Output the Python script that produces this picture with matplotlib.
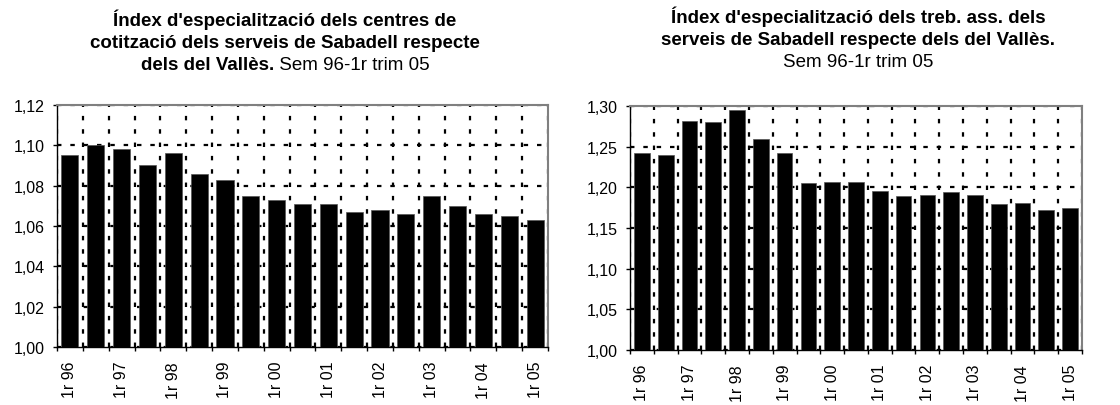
import matplotlib
matplotlib.use('Agg')
import matplotlib.pyplot as plt
from matplotlib.ticker import FuncFormatter
import numpy as np

plt.rcParams['font.family'] = ['Liberation Sans', 'DejaVu Sans']

# Dades: 1r sem 96 - 1r trim 05 (semestres)
periodes = ['1r 96', '2n 96', '1r 97', '2n 97', '1r 98', '2n 98', '1r 99', '2n 99',
            '1r 00', '2n 00', '1r 01', '2n 01', '1r 02', '2n 02', '1r 03', '2n 03',
            '1r 04', '2n 04', '1r 05']

centres = [1.095, 1.100, 1.098, 1.090, 1.096, 1.086, 1.083, 1.075, 1.073, 1.071,
           1.071, 1.067, 1.068, 1.066, 1.075, 1.070, 1.066, 1.065, 1.063]

treballadors = [1.242, 1.240, 1.281, 1.280, 1.295, 1.260, 1.242, 1.205, 1.206, 1.206,
                1.196, 1.189, 1.191, 1.194, 1.190, 1.180, 1.181, 1.172, 1.175]

ticks_esq = [1.00, 1.02, 1.04, 1.06, 1.08, 1.10, 1.12]
ticks_dre = [1.00, 1.05, 1.10, 1.15, 1.20, 1.25, 1.30]

titol_esq = ["Índex d'especialització dels centres de",
             "cotització dels serveis de Sabadell respecte"]
titol_esq_bold3 = "dels del Vallès."
titol_esq_reg3 = " Sem 96-1r trim 05"

titol_dre = ["Índex d'especialització dels treb. ass. dels",
             "serveis de Sabadell respecte dels del Vallès."]
titol_dre_reg3 = "Sem 96-1r trim 05"

W, H = 1120, 406
fig = plt.figure(figsize=(W / 100, H / 100), dpi=100)


def px(x, y):
    return x / W, 1 - y / H


def bar_chart(ax, values, yticks):
    n = len(values)
    x = np.arange(n)
    ax.bar(x, np.array(values) - yticks[0], bottom=yticks[0], width=0.66,
           color='black', edgecolor='#555555', linewidth=0.5, zorder=3)
    ax.set_xlim(-0.5, n - 0.5)
    ax.set_ylim(yticks[0], yticks[-1])
    ax.set_yticks(yticks)
    ax.yaxis.set_major_formatter(FuncFormatter(lambda v, p: ('%.2f' % v).replace('.', ',')))

    # etiquetes cada dos periodes, centrades a la barra
    ax.set_xticks(x[::2])
    ax.set_xticklabels(periodes[::2], rotation=90)
    ax.tick_params(axis='x', which='major', length=0, pad=10)
    # marques i graella a les fronteres entre categories
    ax.set_xticks(np.arange(-0.5, n, 1.0), minor=True)
    ax.tick_params(axis='x', which='minor', length=3, width=1, direction='out')
    ax.tick_params(axis='y', length=3, width=1, direction='out', pad=6)
    ax.tick_params(labelsize=11.5)

    ax.grid(True, axis='x', which='minor', color='black', linewidth=1.6,
            linestyle=(0, (2, 4)), zorder=1)
    ax.grid(True, axis='y', which='major', color='black', linewidth=1.6,
            linestyle=(0, (2, 4)), zorder=1)
    ax.grid(False, axis='x', which='major')

    for s in ['top', 'right']:
        ax.spines[s].set_color('#808080')
        ax.spines[s].set_linewidth(1.5)
    for s in ['left', 'bottom']:
        ax.spines[s].set_color('black')
        ax.spines[s].set_linewidth(1)


ax1 = fig.add_axes([57 / W, 1 - 348 / H, (548 - 57) / W, (348 - 106) / H])
bar_chart(ax1, centres, ticks_esq)

ax2 = fig.add_axes([630 / W, 1 - 351 / H, (1082 - 630) / W, (351 - 107) / H])
bar_chart(ax2, treballadors, ticks_dre)

# Títols
fs = 13.5
for i, line in enumerate(titol_esq):
    fig.text(*px(285, 26.5 + 22 * i), line, ha='center', va='baseline',
             fontsize=fs, fontweight='bold')

renderer = fig.canvas.get_renderer()
t_b = fig.text(0, 0, titol_esq_bold3, fontsize=fs, fontweight='bold', va='baseline')
t_r = fig.text(0, 0, titol_esq_reg3, fontsize=fs, va='baseline')
wb = t_b.get_window_extent(renderer).width
wr = t_r.get_window_extent(renderer).width
x0 = 285 - (wb + wr) / 2
t_b.set_position(px(x0, 70.5))
t_r.set_position(px(x0 + wb, 70.5))

for i, line in enumerate(titol_dre):
    fig.text(*px(858, 23 + 22 * i), line, ha='center', va='baseline',
             fontsize=fs, fontweight='bold')
fig.text(*px(858, 67), titol_dre_reg3, ha='center', va='baseline', fontsize=fs)

fig.savefig('out.png', dpi=100)
